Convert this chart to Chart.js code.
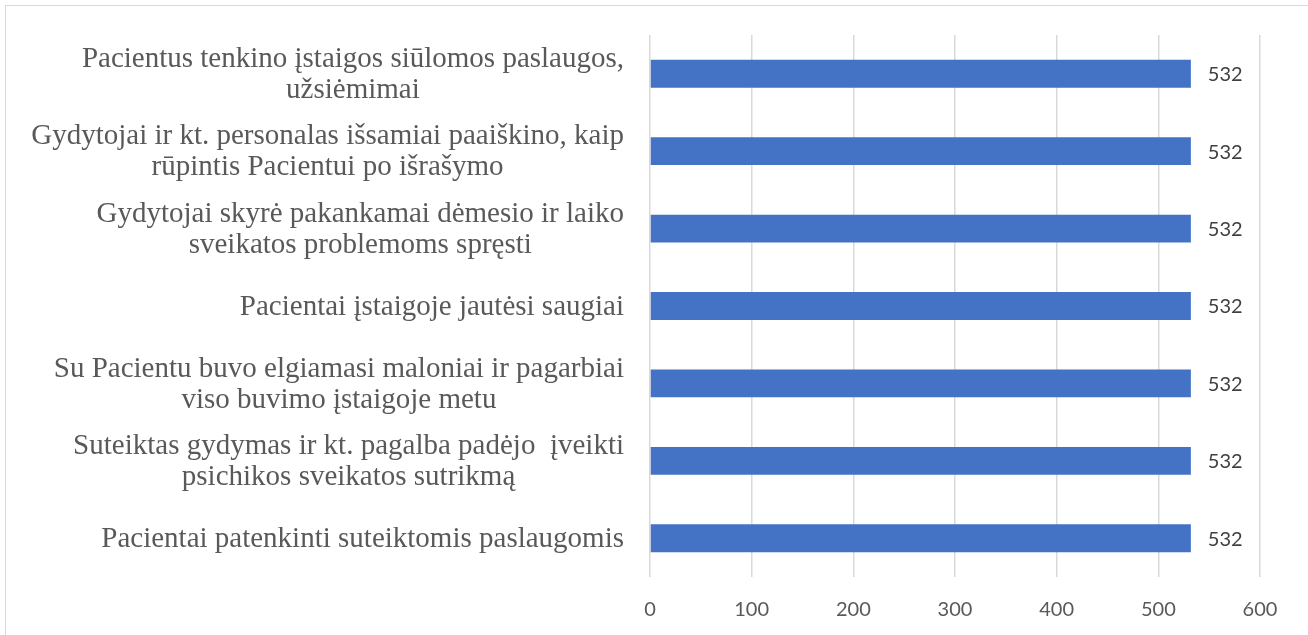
<!DOCTYPE html>
<html>
<head>
<meta charset="utf-8">
<script src="https://cdn.jsdelivr.net/npm/chart.js@4"></script>
<style>
  html, body { margin: 0; padding: 0; background: #fff; }
  #wrap { position: absolute; left: 0; top: 0; width: 1308px; height: 635px; }
  #frame { position: absolute; left: 5px; top: 5px; width: 1310px; height: 640px; border: 1px solid #d9d9d9; box-sizing: border-box; }
</style>
</head>
<body>
<div id="wrap">
  <div id="frame"></div>
  <canvas id="chart" width="1308" height="635"></canvas>
</div>
<script>
const categories = [
    ['Pacientus tenkino įstaigos siūlomos paslaugos,', 'užsiėmimai'],
    ['Gydytojai ir kt. personalas išsamiai paaiškino, kaip', 'rūpintis Pacientui po išrašymo'],
    ['Gydytojai skyrė pakankamai dėmesio ir laiko', 'sveikatos problemoms spręsti'],
    ['Pacientai įstaigoje jautėsi saugiai'],
    ['Su Pacientu buvo elgiamasi maloniai ir pagarbiai', 'viso buvimo įstaigoje metu'],
    ['Suteiktas gydymas ir kt. pagalba padėjo  įveikti', 'psichikos sveikatos sutrikmą'],
    ['Pacientai patenkinti suteiktomis paslaugomis']
];
const values = [532, 532, 532, 532, 532, 532, 532];
const xMin = 0, xMax = 600, xStep = 100;

const labelFont = '29px "Liberation Serif"';
const tickFont = 'Lato';

// category labels: lines centred on each other, block right-aligned to the axis
const catLabels = {
    id: 'catLabels',
    afterDraw(chart) {
        const ctx = chart.ctx;
        const y = chart.scales.y;
        const right = chart.chartArea.left - 26;
        const lh = 31;
        ctx.save();
        ctx.font = labelFont;
        ctx.fillStyle = '#595959';
        ctx.textAlign = 'center';
        ctx.textBaseline = 'middle';
        categories.forEach((lines, i) => {
            const w = Math.max(...lines.map(l => ctx.measureText(l).width));
            const cx = right - w / 2;
            const cy = y.getPixelForTick(i) + 1;
            lines.forEach((l, k) => {
                ctx.fillText(l, cx, cy + (k - (lines.length - 1) / 2) * lh);
            });
        });
        ctx.restore();
    }
};

// value labels at the end of each bar
const valueLabels = {
    id: 'valueLabels',
    afterDatasetsDraw(chart) {
        const ctx = chart.ctx;
        const meta = chart.getDatasetMeta(0);
        ctx.save();
        ctx.font = '20px ' + tickFont;
        ctx.fillStyle = '#404040';
        ctx.textAlign = 'left';
        ctx.textBaseline = 'middle';
        meta.data.forEach((bar, i) => {
            ctx.fillText(String(values[i]), bar.x + 17, bar.y + 1);
        });
        ctx.restore();
    }
};

new Chart(document.getElementById('chart').getContext('2d'), {
    type: 'bar',
    data: {
        labels: categories,
        datasets: [{
            data: values,
            backgroundColor: '#4472C4',
            borderWidth: 0,
            categoryPercentage: 0.9,
            barPercentage: 0.4
        }]
    },
    options: {
        indexAxis: 'y',
        responsive: false,
        animation: false,
        layout: { padding: { top: 35, right: 48, bottom: 0, left: 0 } },
        plugins: { legend: { display: false }, tooltip: { enabled: false } },
        scales: {
            x: {
                min: xMin,
                max: xMax,
                ticks: { stepSize: xStep, color: '#595959', font: { family: tickFont, size: 20 }, padding: 21 },
                grid: { color: '#d9d9d9', lineWidth: 1.5, drawTicks: false },
                border: { display: false },
                afterFit(scale) { scale.height = 58; }
            },
            y: {
                ticks: { display: false },
                grid: { display: false },
                border: { display: false },
                afterFit(scale) { scale.width = 650; }
            }
        }
    },
    plugins: [catLabels, valueLabels]
});
</script>
</body>
</html>
